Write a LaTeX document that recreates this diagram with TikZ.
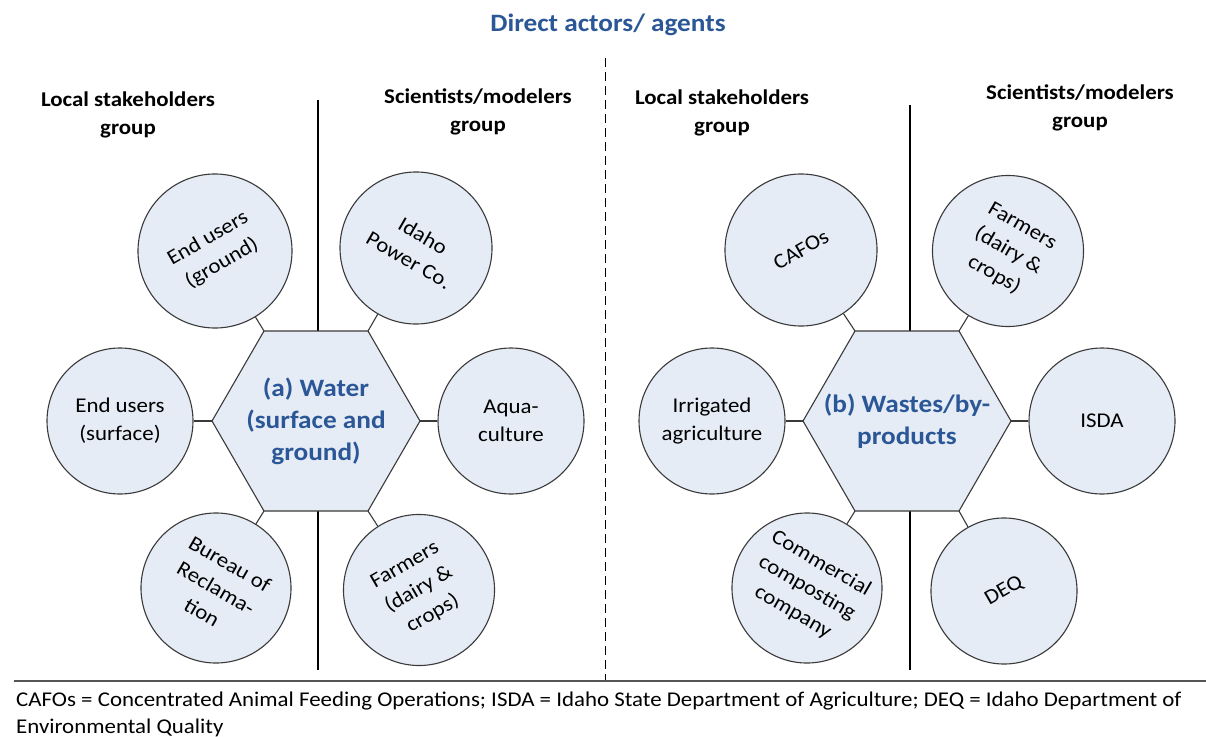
\documentclass[tikz,border=0pt]{standalone}
\usepackage{fontspec}
\setmainfont{Carlito}[FakeStretch=1.09]
\definecolor{fillblue}{HTML}{E6ECF6}
\definecolor{edge}{HTML}{3A3A3A}
\definecolor{titleblue}{HTML}{2B5797}
\definecolor{rulegray}{HTML}{555555}
\begin{document}
\begin{tikzpicture}[x=1pt,y=-1pt,
  circ/.style={circle, draw=edge, fill=fillblue, line width=1.1pt, minimum size=#1, inner sep=0pt, align=center, font=\fontsize{21}{28}\selectfont},
  circ/.default=150pt,
  hexa/.style={draw=edge, fill=fillblue, line width=1.1pt},
  conn/.style={draw=edge, line width=1.1pt},
  divider/.style={draw=black, line width=1.1pt},
  header/.style={align=center, font=\fontsize{21}{28}\bfseries\selectfont},
  hextext/.style={align=center, text=titleblue, font=\fontsize{25}{32}\bfseries\selectfont}
]
\useasboundingbox (0,0) rectangle (1206,736);
\fill[white] (0,0) rectangle (1206,736);

% title
\node[font=\fontsize{25}{30}\bfseries\selectfont, text=titleblue] (title) at (608,25) {Direct actors/ agents};

% dashed separator
\coordinate (dtop) at (605,58);
\coordinate (dbot) at (605,680);
\draw[black, line width=1pt, dash pattern=on 9pt off 5pt] (dtop) -- (dbot);

% headers
\node[header] (hLL) at (128,115) {Local stakeholders\\group};
\node[header] (hLS) at (478,112) {Scientists/modelers\\group};
\node[header] (hRL) at (722,113) {Local stakeholders\\group};
\node[header] (hRS) at (1080,108) {Scientists/modelers\\group};

% ===== left panel =====
\coordinate (A0) at (420,421);
\coordinate (A1) at (368,331);
\coordinate (A2) at (264,331);
\coordinate (A3) at (212,421);
\coordinate (A4) at (264,511);
\coordinate (A5) at (368,511);
\coordinate (Atop) at (318,331);
\coordinate (Abot) at (318,511);
\coordinate (AlineT) at (318,100);
\coordinate (AlineB) at (318,670);
\draw[divider] (AlineT) -- (Atop);
\draw[divider] (Abot) -- (AlineB);
\draw[hexa] (A0) -- (A1) -- (A2) -- (A3) -- (A4) -- (A5) -- cycle;
\node[hextext] (hexA) at (316,421) {(a) Water\\(surface and\\ground)};

\node[circ=154pt, rotate=30] (ground) at (215,251) {End users\\(ground)};
\node[circ=152pt, rotate=-30] (idaho) at (416,248) {Idaho\\Power Co.};
\node[circ=146pt] (surface) at (120,421) {End users\\(surface)};
\node[circ=146pt] (aqua) at (511,421) {Aqua-\\culture};
\node[circ=150pt, rotate=-30] (bureau) at (216,588) {Bureau of\\Reclama-\\tion};
\node[circ=151pt, rotate=30] (farmA) at (419,590) {Farmers\\(dairy \&\\crops)};

\draw[conn] (A2) -- (ground);
\draw[conn] (A1) -- (idaho);
\draw[conn] (A3) -- (surface);
\draw[conn] (A0) -- (aqua);
\draw[conn] (A4) -- (bureau);
\draw[conn] (A5) -- (farmA);

% ===== right panel =====
\coordinate (B0) at (1011,421);
\coordinate (B1) at (959,331);
\coordinate (B2) at (855,331);
\coordinate (B3) at (803,421);
\coordinate (B4) at (855,511);
\coordinate (B5) at (959,511);
\coordinate (Btop) at (910,331);
\coordinate (Bbot) at (910,511);
\coordinate (BlineT) at (910,105);
\coordinate (BlineB) at (910,670);
\draw[divider] (BlineT) -- (Btop);
\draw[divider] (Bbot) -- (BlineB);
\draw[hexa] (B0) -- (B1) -- (B2) -- (B3) -- (B4) -- (B5) -- cycle;
\node[hextext] (hexB) at (907,421) {(b) Wastes/by-\\products};

\node[circ=152pt, rotate=30] (cafos) at (801,250) {CAFOs};
\node[circ=151pt, rotate=-30] (farmB) at (1008,251) {Farmers\\(dairy \&\\crops)};
\node[circ=146pt] (irrig) at (712,421) {Irrigated\\agriculture};
\node[circ=146pt] (isda) at (1102,421) {ISDA};
\node[circ=150pt, rotate=-30] (compost) at (807,588) {Commercial\\composting\\company};
\node[circ=146pt, rotate=30] (deq) at (1004,591) {DEQ};

\draw[conn] (B2) -- (cafos);
\draw[conn] (B1) -- (farmB);
\draw[conn] (B3) -- (irrig);
\draw[conn] (B0) -- (isda);
\draw[conn] (B4) -- (compost);
\draw[conn] (B5) -- (deq);

% bottom rule and caption
\coordinate (ruleL) at (14,681);
\coordinate (ruleR) at (1206,681);
\draw[rulegray, line width=2pt] (ruleL) -- (ruleR);
\node[anchor=west, align=left, inner sep=0pt, font=\fontsize{21}{27}\selectfont] (caption) at (16,714)
  {CAFOs = Concentrated Animal Feeding Operations; ISDA = Idaho State Department of Agriculture; DEQ = Idaho Department of\\Environmental Quality};
\end{tikzpicture}
\end{document}
